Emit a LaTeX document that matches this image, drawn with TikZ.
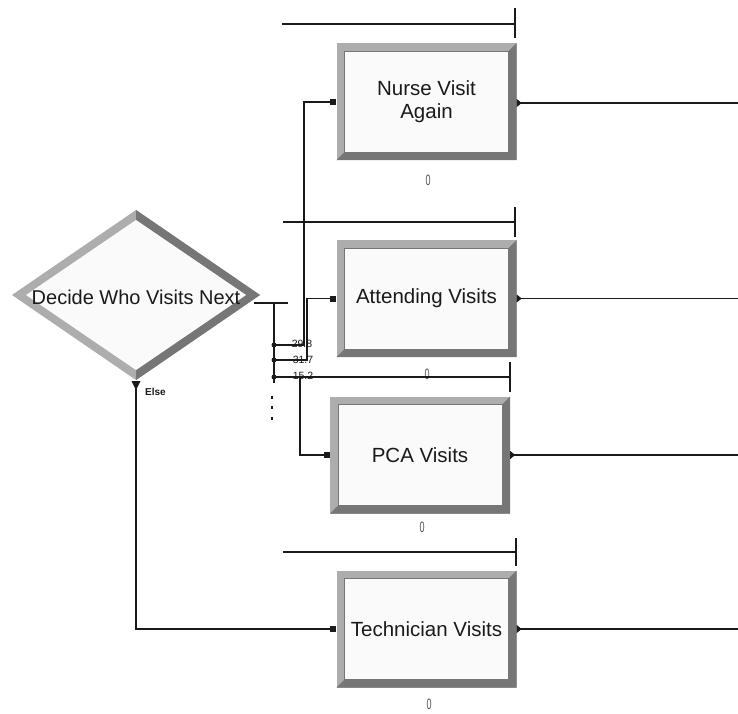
\documentclass[tikz,border=0pt]{standalone}
\usepackage{fontspec}
\setmainfont{Liberation Sans}
\definecolor{bevlight}{HTML}{ADADAD}
\definecolor{bevdark}{HTML}{767676}
\definecolor{inner}{HTML}{FAFAFA}
\definecolor{ink}{HTML}{1A1A1A}
\begin{document}
\begin{tikzpicture}[x=1pt,y=-1pt,
  visitbox/.style={minimum width=180pt,minimum height=117pt,inner sep=0pt,align=center,
    text=ink,font=\fontsize{20.5}{23}\selectfont,
    path picture={
      \fill[bevlight] (path picture bounding box.north west) rectangle (path picture bounding box.south east);
      \fill[bevdark] (path picture bounding box.north east) -- (path picture bounding box.south east)
        -- (path picture bounding box.south west) -- ([xshift=8pt,yshift=8pt]path picture bounding box.south west)
        -- ([xshift=-8pt,yshift=8pt]path picture bounding box.south east) -- ([xshift=-8pt,yshift=-8pt]path picture bounding box.north east) -- cycle;
      \filldraw[fill=inner,draw=bevdark,line width=0.6pt] ([xshift=8pt,yshift=-8pt]path picture bounding box.north west) rectangle ([xshift=-8pt,yshift=8pt]path picture bounding box.south east);
    }},
  conn/.style={draw=ink,line width=1.4pt},
  queue/.style={draw=ink,line width=1.4pt},
  zerolbl/.style={text=ink!75,font=\fontsize{15}{15}\selectfont,inner sep=0pt,xscale=0.6},
  pct/.style={text=ink,font=\fontsize{10.5}{11}\selectfont,inner sep=0pt},
  insq/.style={fill=ink,minimum size=6pt,inner sep=0pt},
  bdot/.style={circle,fill=ink,minimum size=5pt,inner sep=0pt}
]
\useasboundingbox (0,0) rectangle (738,713);
\fill[white] (0,0) rectangle (738,713);

% ---------- diamond ----------
\coordinate (dT) at (136,210);
\coordinate (dR) at (260,295);
\coordinate (dB) at (136,380);
\coordinate (dL) at (12,295);
\fill[bevlight] (dT) -- (dR) -- (dB) -- (dL) -- cycle;
\fill[bevdark] (dT) -- (dR) -- (dB) -- (136,370) -- (246,295) -- (136,220) -- cycle;
\fill[inner] (136,220) -- (246,295) -- (136,370) -- (26,295) -- cycle;
\node[text=ink,font=\fontsize{20}{22}\selectfont,inner sep=0pt] (decide) at (136,297) {Decide Who Visits Next};

% ---------- boxes ----------
\node[visitbox] (nurse)  at (426.5,101.5) {Nurse Visit\\Again};
\node[visitbox] (attend) at (426.5,298.5) {Attending Visits};
\node[visitbox] (pca)    at (420,455)     {PCA Visits};
\node[visitbox] (tech)   at (426.5,629)   {Technician Visits};

% zero labels
\node[zerolbl] (z1) at (428,180) {0};
\node[zerolbl] (z2) at (427,374) {0};
\node[zerolbl] (z3) at (422,527) {0};
\node[zerolbl] (z4) at (429,704) {0};

% queue lines
\coordinate (q1a) at (282,24);  \coordinate (q1b) at (515,24);
\coordinate (q2a) at (283,222); \coordinate (q2b) at (515,222);
\coordinate (q3a) at (274,377); \coordinate (q3b) at (510,377);
\coordinate (q4a) at (283,552); \coordinate (q4b) at (516,552);
\draw[queue] (q1a) -- (q1b); \draw[queue] ([yshift=16pt]q1b) -- ([yshift=-14pt]q1b);
\draw[queue] (q2a) -- (q2b); \draw[queue] ([yshift=15pt]q2b) -- ([yshift=-15pt]q2b);
\draw[queue] (q3a) -- (q3b); \draw[queue] ([yshift=15pt]q3b) -- ([yshift=-15pt]q3b);
\draw[queue] (q4a) -- (q4b); \draw[queue] ([yshift=14pt]q4b) -- ([yshift=-14pt]q4b);

% ---------- connectors ----------
\coordinate (dexit) at (254,303);
\coordinate (stub) at (288,303);
\coordinate (bus) at (274,303);
\coordinate (busend) at (274,383);
\draw[conn] (dexit) -- (stub);
\draw[conn] (bus) -- (busend);

\node[bdot] (b1) at (274,345) {};
\node[bdot] (b2) at (274,360) {};
\node[bdot] (b3) at (274,377) {};

\draw[conn] (b1.center) -- (304,345) -- (304,102) -- ([xshift=-6pt]nurse.west |- 0,102);
\draw[conn] (b2.center) -- (307,360) -- (307,298.5) -- ([xshift=-6pt]attend.west);
\draw[conn] (b3.center) -- (300,377) -- (300,455) -- ([xshift=-6pt]pca.west);

\node[pct] (p1) at (302,344) {29.8};
\node[pct] (p2) at (303,360) {31.7};
\node[pct] (p3) at (303,376) {15.2};

% dotted continuation
\foreach \yy in {397,407,418} \draw[ink,line width=1.4pt] (272,\yy-1.5) -- (272,\yy+1.5);

% else branch
\coordinate (elsetop) at (136,384);
\fill[ink] (131.5,381) -- (140.5,381) -- (136,390) -- cycle;
\node[text=ink,font=\bfseries\fontsize{10}{10}\selectfont,inner sep=0pt,anchor=west] (elselbl) at (145,392) {Else};
\draw[conn] (elsetop) -- (136,629) -- ([xshift=-6pt]tech.west);

% input squares
\node[insq] (i1) at ([xshift=-3pt]nurse.west |- 0,102) {};
\node[insq] (i2) at ([xshift=-3pt]attend.west) {};
\node[insq] (i3) at ([xshift=-3pt]pca.west) {};
\node[insq] (i4) at ([xshift=-3pt]tech.west) {};

% outputs
\foreach \n/\yy in {nurse/103,attend/298.5,pca/455,tech/629}{
  \coordinate (o\n) at (\n.east |- 0,\yy);
  \coordinate (e\n) at (738,\yy);
  \draw[conn] (o\n) -- (e\n);
  \fill[ink] (o\n) ++(0,-4) -- ++(5,4) -- ++(-5,4) -- cycle;
}
\end{tikzpicture}
\end{document}
